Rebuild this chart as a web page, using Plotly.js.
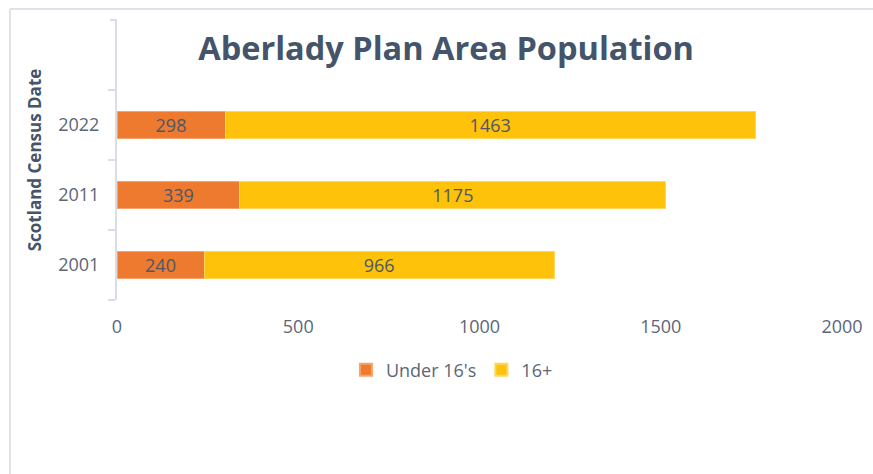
<!DOCTYPE html>
<html>
<head>
<meta charset="utf-8">
<script src="https://cdn.plot.ly/plotly-3.0.1.min.js"></script>
<style>
html,body{margin:0;padding:0;background:#fff;}
#chart{width:873px;height:474px;}
</style>
</head>
<body>
<div id="chart"></div>
<script>
var censusYears = ['2001', '2011', '2022'];
var under16 = [240, 339, 298];
var over16 = [966, 1175, 1463];
var seriesNames = ["Under 16's", '16+'];
var xTicks = [0, 500, 1000, 1500, 2000];

var labelFont = {family: 'Open Sans, sans-serif', size: 18, color: '#4D5766'};

var traces = [
  {
    type: 'bar', orientation: 'h', name: seriesNames[0],
    y: censusYears, x: under16,
    text: under16.map(String), textposition: 'inside', insidetextanchor: 'middle',
    textfont: labelFont, constraintext: 'none',
    marker: {color: '#EE7A2F', line: {color: '#F4A46C', width: 1}},
    width: 0.39, hoverinfo: 'x+y+name'
  },
  {
    type: 'bar', orientation: 'h', name: seriesNames[1],
    y: censusYears, x: over16,
    text: over16.map(String), textposition: 'inside', insidetextanchor: 'middle',
    textfont: labelFont, constraintext: 'none',
    marker: {color: '#FFC20A', line: {color: '#FFD65C', width: 1}},
    width: 0.39, hoverinfo: 'x+y+name'
  }
];

var layout = {
  width: 873, height: 474,
  margin: {l: 117, r: 31, t: 20, b: 174},
  paper_bgcolor: '#ffffff', plot_bgcolor: 'rgba(0,0,0,0)',
  barmode: 'stack',
  font: {family: 'Open Sans, sans-serif', color: '#4D5766'},
  title: {
    text: '<b>Aberlady Plan Area Population</b>',
    x: 0.511, xanchor: 'center', y: 0.898, yanchor: 'middle',
    font: {family: 'Open Sans, sans-serif', size: 32.5, color: '#44546A'}
  },
  xaxis: {
    range: [0, 2000], tickvals: xTicks, ticktext: xTicks.map(String),
    showgrid: false, zeroline: false, showline: false, ticks: '',
    tickfont: {size: 18, color: '#5B6678'}, ticklabelstandoff: 14,
    fixedrange: true
  },
  yaxis: {
    type: 'category', categoryorder: 'array', categoryarray: censusYears,
    range: [-0.5, 3.5],
    showgrid: false, zeroline: false,
    showline: true, linecolor: '#D9DEE6', linewidth: 2,
    ticks: 'outside', tickson: 'boundaries', ticklen: 7, tickcolor: '#D9DEE6', tickwidth: 2,
    tickfont: {size: 18, color: '#5B6678'}, ticklabelstandoff: 12,
    title: {text: '<b>Scotland Census Date</b>', standoff: 12,
            font: {size: 17, color: '#44546A'}},
    fixedrange: true
  },
  showlegend: true,
  legend: {
    orientation: 'h', x: 0.462, xanchor: 'center', y: -0.25, yanchor: 'middle',
    font: {size: 18, color: '#5B6678'}, traceorder: 'normal',
    itemwidth: 30, itemsizing: 'constant'
  },
  shapes: [
    {type: 'line', xref: 'paper', yref: 'paper', x0: -0.1476, x1: 1.05, y0: 1.0393, y1: 1.0393,
     line: {color: '#DDE2E9', width: 2}},
    {type: 'line', xref: 'paper', yref: 'paper', x0: -0.1476, x1: -0.1476, y0: 1.0393, y1: -0.63,
     line: {color: '#DDE2E9', width: 2}},
    {type: 'line', xref: 'paper', yref: 'paper', x0: -0.0097, x1: 0, y0: 1, y1: 1,
     line: {color: '#D9DEE6', width: 2}}
  ]
};

Plotly.newPlot('chart', traces, layout, {displayModeBar: false, staticPlot: true});
</script>
</body>
</html>
